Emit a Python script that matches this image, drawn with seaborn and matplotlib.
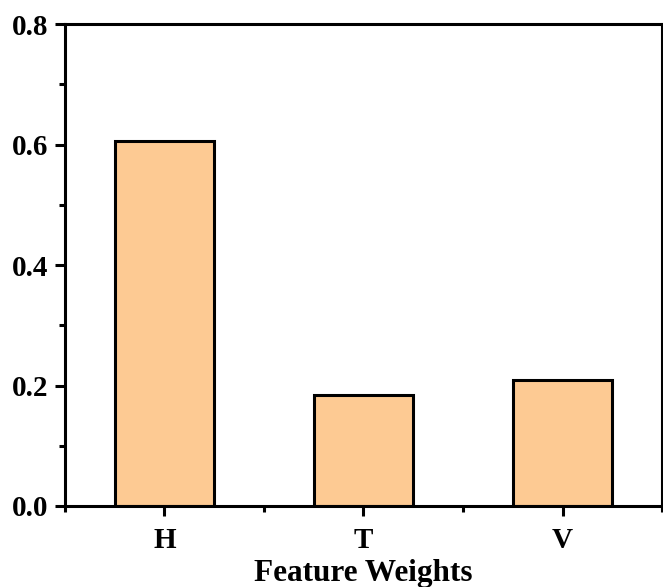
import matplotlib
matplotlib.use("Agg")
import matplotlib.pyplot as plt
import seaborn as sns
import pandas as pd
from matplotlib.ticker import MultipleLocator, FixedLocator

categories = ["H", "T", "V"]
weights = [0.606, 0.184, 0.209]

sns.set_style("ticks")
plt.rcParams['font.family'] = ['Liberation Serif', 'DejaVu Serif']
plt.rcParams['font.weight'] = 'bold'
plt.rcParams['axes.edgecolor'] = 'black'
plt.rcParams['text.color'] = 'black'
plt.rcParams['xtick.color'] = 'black'
plt.rcParams['ytick.color'] = 'black'
plt.rcParams['axes.labelcolor'] = 'black'

df = pd.DataFrame({"feature": categories, "weight": weights})

fig = plt.figure(figsize=(6.63, 5.87), dpi=100)
ax = fig.add_axes([0.098, 0.138, 0.9005, 0.821])
sns.barplot(data=df, x="feature", y="weight", color="#FDCA93", saturation=1,
            width=0.5, edgecolor="black", linewidth=2.2, ax=ax)
ax.set_xlim(-0.5, 2.5)
ax.set_ylim(0, 0.8)
ax.yaxis.set_major_locator(MultipleLocator(0.2))
ax.yaxis.set_minor_locator(MultipleLocator(0.1))
ax.xaxis.set_minor_locator(FixedLocator([-0.5, 0.5, 1.5, 2.5]))
ax.set_yticklabels([f"{v:.1f}" for v in ax.get_yticks()])
for s in ax.spines.values():
    s.set_visible(True)
    s.set_linewidth(2.2)
    s.set_color("black")
ax.tick_params(which="major", direction="out", length=7, width=2.2, labelsize=21, pad=5)
ax.tick_params(axis="x", which="major", pad=8)
ax.tick_params(which="minor", direction="out", length=4, width=2.2)
ax.tick_params(axis="y", which="both", right=False)
ax.tick_params(axis="x", which="both", top=False)
for lab in ax.get_xticklabels() + ax.get_yticklabels():
    lab.set_fontweight("bold")
ax.set_xlabel("Feature Weights", fontsize=22.5, fontweight="bold", labelpad=4)
ax.set_ylabel("")
fig.savefig("out.png", dpi=100)
